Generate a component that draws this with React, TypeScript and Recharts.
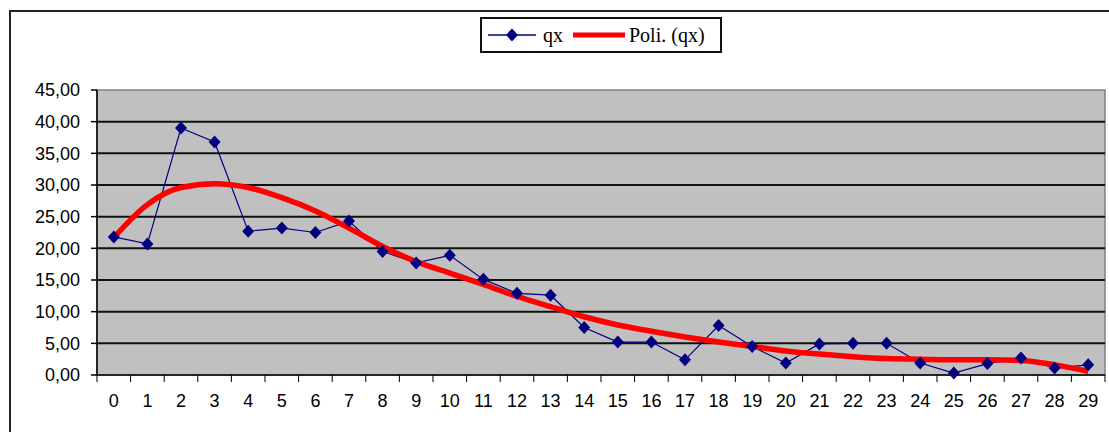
import React from 'react';
import { LineChart, Line, XAxis, YAxis, ReferenceArea, ReferenceLine } from 'recharts';

// ages 0..29
const ages = ['0', '1', '2', '3', '4', '5', '6', '7', '8', '9', '10', '11', '12', '13', '14', '15', '16', '17', '18', '19', '20', '21', '22', '23', '24', '25', '26', '27', '28', '29'];

// observed qx
const qx = [21.8, 20.7, 39.0, 36.8, 22.7, 23.2, 22.5, 24.3, 19.5, 17.7, 18.9, 15.1, 12.9, 12.6, 7.5, 5.2, 5.2, 2.4, 7.8, 4.5, 1.9, 4.9, 5.0, 5.0, 1.9, 0.3, 1.8, 2.7, 1.1, 1.6];

// polynomial trend of qx
const poli = [21.7, 26.9, 29.6, 30.2, 29.6, 28.0, 25.9, 23.2, 20.3, 17.9, 16.1, 14.3, 12.4, 10.8, 9.2, 7.9, 6.9, 6.0, 5.2, 4.5, 3.8, 3.3, 2.9, 2.6, 2.5, 2.4, 2.4, 2.3, 1.6, 0.6];

const yTicks = [0, 5, 10, 15, 20, 25, 30, 35, 40, 45];
const gridValues = [5, 10, 15, 20, 25, 30, 35, 40];

const data = ages.map((age, i) => ({ age, qx: qx[i], poli: poli[i] }));

const NAVY = '#000080';
const FONT = '"Liberation Sans", Arial, sans-serif';
const axisFont = { fontFamily: FONT, fontSize: 18, fill: '#000' };

const fmt = (v: number) => v.toFixed(2).replace('.', ',');

const Diamond = (props: any) => {
  const { cx, cy, index } = props;
  if (cx == null || cy == null) return null;
  return (
    <path
      key={`dm-${index}`}
      d={`M${cx},${cy - 6.5}L${cx + 6},${cy}L${cx},${cy + 6.5}L${cx - 6},${cy}Z`}
      fill={NAVY}
    />
  );
};

// category label centred in its band, tick marks on the band edges
const AgeTick = (props: any) => {
  const { x, y, payload, index } = props;
  const half = payload.offset || 0;
  const axisY = y - 20;
  const last = index === ages.length - 1;
  return (
    <g>
      <line x1={x - half} y1={axisY} x2={x - half} y2={axisY + 7} stroke="#000" />
      {last && <line x1={x + half} y1={axisY} x2={x + half} y2={axisY + 7} stroke="#000" />}
      <text x={x} y={y - 1} dy="0.71em" textAnchor="middle" fontFamily={FONT} fontSize={18} fill="#000">
        {payload.value}
      </text>
    </g>
  );
};

function LegendBox() {
  return (
    <div
      style={{
        position: 'absolute',
        left: 480,
        top: 17,
        width: 238,
        height: 32,
        border: '2px solid #111',
        background: '#fff',
        display: 'flex',
        alignItems: 'center',
        fontFamily: '"Liberation Serif", "Times New Roman", serif',
        fontSize: 20,
        color: '#000',
        boxSizing: 'content-box',
      }}
    >
      <svg width={50} height={14} style={{ marginLeft: 6 }}>
        <line x1={0} y1={7} x2={48} y2={7} stroke={NAVY} strokeWidth={1.5} />
        <path d="M24,0.5L30,7L24,13.5L18,7Z" fill={NAVY} />
      </svg>
      <span style={{ marginLeft: 5 }}>qx</span>
      <svg width={54} height={10} style={{ marginLeft: 10 }}>
        <line x1={0} y1={5} x2={52} y2={5} stroke="#ff0000" strokeWidth={5} />
      </svg>
      <span style={{ marginLeft: 2 }}>Poli. (qx)</span>
    </div>
  );
}

export default function App() {
  return (
    <div style={{ position: 'relative', width: 1109, height: 432, overflow: 'hidden', background: '#fff' }}>
      <style>{'body{margin:0}'}</style>
      <div
        style={{
          position: 'absolute',
          left: 9,
          top: 10,
          width: 1120,
          height: 440,
          borderLeft: '2px solid #222',
          borderTop: '2px solid #222',
        }}
      />
      <LineChart
        width={1109}
        height={432}
        data={data}
        margin={{ top: 90, right: 4, left: 0, bottom: 0 }}
        style={{ position: 'absolute', left: 0, top: 0 }}
      >
        <XAxis
          dataKey="age"
          scale="band"
          tickLine={false}
          tickSize={6}
          tickMargin={14}
          height={57}
          interval={0}
          stroke="#000"
          strokeWidth={1.5}
          tick={<AgeTick />}
        />
        <YAxis
          domain={[0, 45]}
          ticks={yTicks}
          tickFormatter={fmt}
          width={97}
          tickSize={6}
          tickMargin={11}
          stroke="#000"
          strokeWidth={1.5}
          tick={axisFont}
          interval={0}
        />
        <ReferenceArea y1={0} y2={45} fill="#c0c0c0" fillOpacity={1} stroke="#808080" strokeWidth={1.5} />
        {gridValues.map((v) => (
          <ReferenceLine key={v} y={v} stroke="#111" strokeWidth={2} />
        ))}
        <Line
          dataKey="qx"
          type="linear"
          stroke={NAVY}
          strokeWidth={1.2}
          dot={<Diamond />}
          activeDot={false}
          isAnimationActive={false}
        />
        <Line
          dataKey="poli"
          type="monotone"
          stroke="#ff0000"
          strokeWidth={5.5}
          dot={false}
          activeDot={false}
          isAnimationActive={false}
        />
      </LineChart>
      <LegendBox />
    </div>
  );
}
